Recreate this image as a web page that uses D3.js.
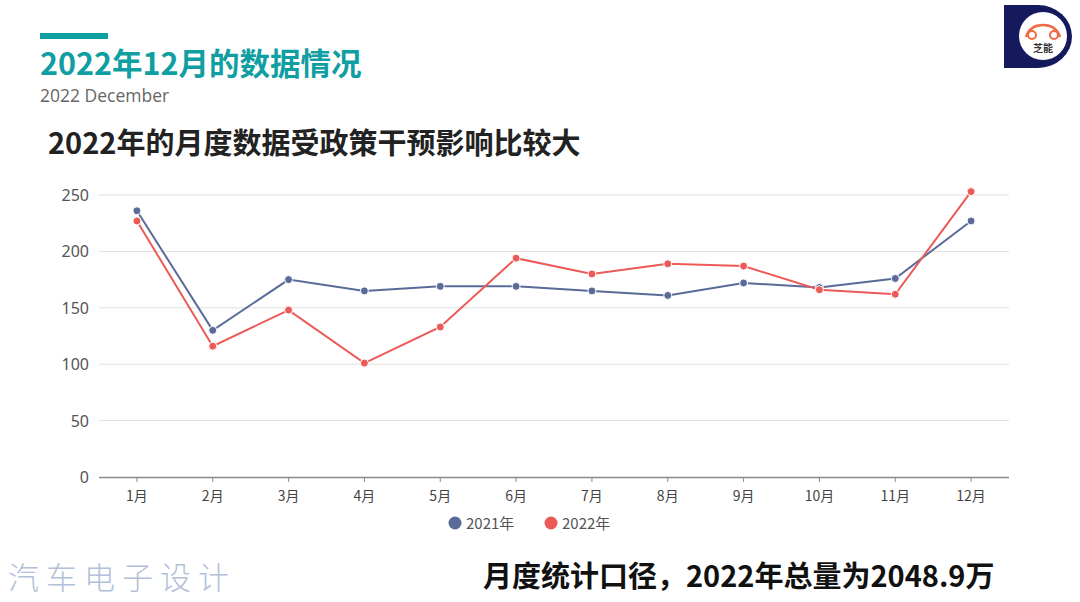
<!DOCTYPE html>
<html><head><meta charset="utf-8">
<script src="https://cdn.jsdelivr.net/npm/d3@7/dist/d3.min.js"></script>
<style>body{margin:0;background:#fff;} svg{display:block;font-family:"Noto Sans CJK SC","Noto Sans",sans-serif;}</style>
</head><body>
<svg id="c" width="1080" height="602"></svg>
<script>
const months = ["1月","2月","3月","4月","5月","6月","7月","8月","9月","10月","11月","12月"];
const s2021 = [236,130,175,165,169,169,165,161,172,168,176,227];
const s2022 = [227,116,148,101,133,194,180,189,187,166,162,253];
const yTicks = [0,50,100,150,200,250];
const seriesNames = ["2021年","2022年"];
const colors = ["#5b6b99","#ec5a57"];

const svg = d3.select("#c");
// header
svg.append("rect").attr("x",40).attr("y",33).attr("width",68).attr("height",6).attr("fill","#0f9ea2");
svg.append("text").attr("x",40).attr("y",75).attr("font-size",30.5).attr("font-weight",700).attr("fill","#0f9ea2").text("2022年12月的数据情况");
svg.append("text").attr("x",40).attr("y",102).attr("font-size",17.5).attr("fill","#666").attr("font-family","'Open Sans',sans-serif").text("2022 December");
svg.append("text").attr("x",48).attr("y",154).attr("font-size",29).attr("font-weight",700).attr("fill","#222").text("2022年的月度数据受政策干预影响比较大");

// logo
const lg = svg.append("g");
lg.append("path").attr("d","M1004,5 L1038,5 A34,31.5 0 0 1 1038,68 L1004,68 Z").attr("fill","#141a5c");
lg.append("circle").attr("cx",1043).attr("cy",36).attr("r",24).attr("fill","#fff");
lg.append("path").attr("d","M1026,37 Q1030,25 1043,25 Q1056,25 1060,37").attr("fill","none").attr("stroke","#ef6a45").attr("stroke-width",2.5);
lg.append("circle").attr("cx",1032).attr("cy",35).attr("r",4).attr("fill","none").attr("stroke","#ef6a45").attr("stroke-width",2);
lg.append("circle").attr("cx",1054).attr("cy",35).attr("r",4).attr("fill","none").attr("stroke","#ef6a45").attr("stroke-width",2);
lg.append("text").attr("x",1043).attr("y",52).attr("text-anchor","middle").attr("font-size",10).attr("font-weight",700).attr("fill","#333").text("芝能");

// chart
const x = d3.scaleBand().domain(months).range([99,1009]);
const y = d3.scaleLinear().domain([0,250]).range([477,195]);
const cx = d => x(d) + x.bandwidth()/2;

svg.append("g").selectAll("line").data(yTicks.filter(t=>t>0)).join("line")
  .attr("x1",99).attr("x2",1009).attr("y1",d=>y(d)).attr("y2",d=>y(d))
  .attr("stroke","#e0e0e0").attr("stroke-width",1);
svg.append("g").selectAll("text").data(yTicks).join("text")
  .attr("x",89).attr("y",d=>y(d)+6).attr("text-anchor","end").attr("font-size",16).attr("fill","#555")
  .attr("font-family","'Noto Sans',sans-serif").text(d=>d);

svg.append("line").attr("x1",99).attr("x2",1009).attr("y1",477.5).attr("y2",477.5).attr("stroke","#8a8a8a").attr("stroke-width",1.5);
svg.append("g").selectAll("line").data(months).join("line")
  .attr("x1",d=>cx(d)).attr("x2",d=>cx(d)).attr("y1",477).attr("y2",482).attr("stroke","#8a8a8a");
svg.append("g").selectAll("text").data(months).join("text")
  .attr("x",d=>cx(d)).attr("y",501).attr("text-anchor","middle").attr("font-size",14).attr("fill","#444").text(d=>d);

const line = d3.line().x((d,i)=>cx(months[i])).y(d=>y(d));
[s2021,s2022].forEach((s,k)=>{
  svg.append("path").datum(s).attr("d",line).attr("fill","none").attr("stroke",colors[k]).attr("stroke-width",2);
});
[s2021,s2022].forEach((s,k)=>{
  svg.append("g").selectAll("circle").data(s).join("circle")
    .attr("cx",(d,i)=>cx(months[i])).attr("cy",d=>y(d)).attr("r",4)
    .attr("fill",colors[k]).attr("stroke","#fff").attr("stroke-width",1);
});

// legend
const legX = [455,551];
seriesNames.forEach((n,k)=>{
  svg.append("circle").attr("cx",legX[k]).attr("cy",523).attr("r",6.5).attr("fill",colors[k]);
  svg.append("text").attr("x",legX[k]+11).attr("y",529).attr("font-size",15).attr("fill","#555").text(n);
});

// footer
svg.append("text").attr("x",8).attr("y",589).attr("font-size",31).attr("font-weight",300).attr("fill","#b3c0da").attr("letter-spacing",7).text("汽车电子设计");
svg.append("text").attr("x",483).attr("y",587).attr("font-size",29).attr("font-weight",700).attr("fill","#111").text("月度统计口径，2022年总量为2048.9万");
</script>
</body></html>
